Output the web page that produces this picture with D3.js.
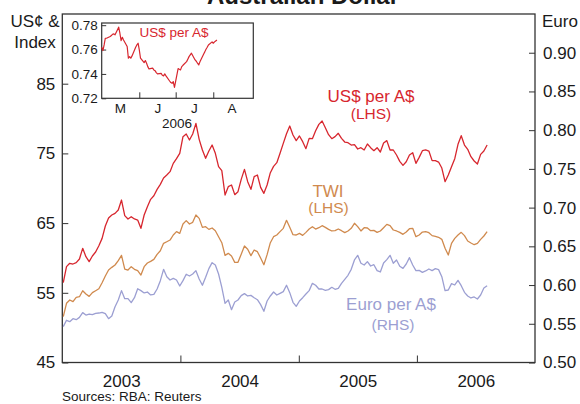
<!DOCTYPE html>
<html>
<head>
<meta charset="utf-8">
<script src="https://cdn.jsdelivr.net/npm/d3@7"></script>
<style>
  body { margin: 0; background: #fff; }
  svg { font-family: "Liberation Sans", Arial, sans-serif; }
</style>
</head>
<body>
<div id="chart"></div>
<script>
let width = 580,
height = 404;

// main series: one reading every 10 days starting 4 Jan 2003
let startDate = new Date(2003, 0, 4);
let stepDays = 10;

let usd = [ //US cents per A$ (LHS)
  56.45, 58.75, 59.23, 59.13, 59.32, 59.85, 61.38, 60.18, 59.47, 60.28,
  60.85, 61.76, 62.81, 64.58, 65.73, 66.16, 66.40, 66.88, 68.31, 66.07,
  65.59, 65.92, 65.59, 65.44, 64.25, 66.16, 67.36, 68.41, 68.93, 69.84,
  70.56, 71.47, 71.90, 72.38, 73.57, 74.24, 75.01, 77.40, 77.78, 76.92,
  77.78, 79.31, 77.02, 75.49, 74.29, 75.34, 76.20, 75.01, 73.10, 72.52,
  69.03, 70.23, 70.47, 69.08, 69.51, 71.28, 72.71, 70.94, 69.84, 71.66,
  71.90, 70.13, 69.27, 70.47, 72.23, 73.14, 73.67, 75.01, 76.44, 77.83,
  78.93, 77.64, 76.83, 77.50,
  76.68, 75.68, 77.16, 77.11, 78.26, 79.17, 79.65, 78.69, 77.69, 77.11,
  77.40, 77.88, 77.16, 76.63, 76.54, 76.20, 76.25, 75.63, 75.82, 75.49,
  76.35, 75.82, 75.39, 75.82, 75.20, 76.49, 76.83, 75.49, 75.49, 74.77,
  73.86, 73.29, 73.81, 74.77, 75.10, 73.57, 74.43, 75.39, 75.49, 75.34,
  73.96, 73.96, 73.76, 72.90, 70.94, 71.90, 73.10, 74.24, 76.30, 77.54,
  76.20, 75.58, 74.53, 73.91, 73.48, 74.86, 75.34, 76.20
];

let twi = [ //trade-weighted index (LHS)
  51.57, 53.49, 53.97, 53.73, 54.35, 54.44, 55.30, 54.83, 54.49, 55.02,
  55.30, 55.59, 56.45, 57.41, 58.27, 58.65, 58.99, 59.61, 60.37, 58.41,
  58.27, 58.75, 58.37, 58.17, 57.55, 58.75, 59.27, 59.51, 59.80, 60.52,
  61.04, 62.10, 62.33, 62.57, 63.29, 63.77, 63.53, 64.87, 65.35, 64.87,
  65.11, 66.16, 65.68, 64.39, 64.49, 64.10, 64.30, 63.91, 63.05, 62.19,
  60.37, 60.66, 60.28, 59.37, 59.37, 60.52, 61.71, 61.24, 60.33, 61.14,
  60.90, 59.99, 59.03, 60.47, 62.19, 63.05, 63.29, 63.77, 64.25, 65.40,
  64.39, 63.34, 63.29, 63.53,
  63.24, 63.67, 64.15, 64.49, 64.15, 64.34, 64.63, 64.39, 64.10, 63.87,
  63.91, 64.15, 63.91, 63.63, 63.87, 64.25, 64.97, 64.49, 63.87, 64.34,
  64.30, 63.91, 63.96, 63.67, 63.87, 64.34, 64.82, 64.63, 64.01, 63.87,
  63.67, 63.39, 63.72, 64.20, 64.25, 63.05, 63.29, 63.72, 63.77, 63.63,
  63.20, 63.10, 62.96, 62.67, 61.38, 60.42, 62.10, 62.81, 63.29, 63.67,
  63.20, 62.43, 62.14, 61.90, 62.10, 62.67, 63.15, 63.77
];

let euro = [ //euro per A$ (RHS)
  0.5463, 0.5545, 0.5527, 0.5566, 0.5553, 0.5583, 0.5644, 0.5613, 0.5626, 0.5618,
  0.5635, 0.5639, 0.5648, 0.5631, 0.5566, 0.5601, 0.5721, 0.5807, 0.5928, 0.5824,
  0.5824, 0.5773, 0.5837, 0.5953, 0.5928, 0.5898, 0.5910, 0.5872, 0.5880, 0.5949,
  0.6057, 0.6203, 0.6108, 0.6065, 0.6087, 0.6065, 0.5988, 0.6057, 0.6139, 0.6117,
  0.6143, 0.6186, 0.6078, 0.5997, 0.6100, 0.6212, 0.6289, 0.6259, 0.6143, 0.5971,
  0.5764, 0.5807, 0.5682, 0.5781, 0.5807, 0.5863, 0.5889, 0.5859, 0.5867, 0.5837,
  0.5811, 0.5747, 0.5661, 0.5794, 0.5859, 0.5910, 0.5872, 0.5893, 0.5915, 0.5997,
  0.5902, 0.5777, 0.5725, 0.5794,
  0.5837, 0.5885, 0.5928, 0.6022, 0.5997, 0.5949, 0.5949, 0.5932, 0.5941, 0.5971,
  0.5945, 0.5958, 0.6022, 0.6074, 0.6126, 0.6203, 0.6324, 0.6384, 0.6281, 0.6259,
  0.6302, 0.6246, 0.6263, 0.6186, 0.6169, 0.6285, 0.6328, 0.6384, 0.6281, 0.6324,
  0.6242, 0.6216, 0.6272, 0.6354, 0.6259, 0.6186, 0.6190, 0.6164, 0.6182, 0.6207,
  0.6186, 0.6212, 0.6199, 0.6108, 0.5928, 0.5936, 0.6018, 0.6001, 0.6061, 0.5992,
  0.5906, 0.5859, 0.5833, 0.5846, 0.5820, 0.5872, 0.5962, 0.5992
];

// inset: daily US$ per A$, trading days 1 May - 4 Aug 2006
let insetStart = new Date(2006, 4, 1);
let insetEnd = new Date(2006, 7, 5);
let insetUsd = [
  0.7619, 0.7592, 0.7638, 0.7693, 0.7693,
  0.7707, 0.7715, 0.7726, 0.7729, 0.7721,
  0.7784, 0.7734, 0.7674, 0.7701, 0.7679,
  0.7625, 0.7529, 0.7542, 0.7529, 0.7548,
  0.7619, 0.7638, 0.7652, 0.7597, 0.7529,
  0.7493, 0.7510, 0.7488, 0.7460, 0.7441,
  0.7447, 0.7433, 0.7427, 0.7411, 0.7400,
  0.7405, 0.7389, 0.7384, 0.7400, 0.7384,
  0.7342, 0.7329, 0.7323, 0.7337, 0.7290,
  0.7444, 0.7438, 0.7433, 0.7460, 0.7471,
  0.7501, 0.7521, 0.7542, 0.7556, 0.7570,
  0.7515, 0.7504, 0.7488, 0.7474, 0.7499,
  0.7562, 0.7581, 0.7603, 0.7619, 0.7638,
  0.7663, 0.7652, 0.7663, 0.7671, 0.7679
];

let leftTicks = [45, 55, 65, 75, 85];
let rightTicks = [0.50, 0.55, 0.60, 0.65, 0.70, 0.75, 0.80, 0.85, 0.90];
let years = [2003, 2004, 2005, 2006];
let insetTicks = [0.72, 0.74, 0.76, 0.78];
let insetMonths = ["M", "J", "J", "A"];

let red = '#d7262e';
let tan = '#d08a4e';
let lilac = '#9c9fd2';
let ink = '#1a1a1a';

// build the date tables
let dates = usd.map(function(d, i){ return d3.timeDay.offset(startDate, i * stepDays); });
let insetDates = d3.timeDay.range(insetStart, insetEnd).filter(function(d){
  return d.getDay() !== 0 && d.getDay() !== 6;
});

let svg = d3.select("#chart")
  .append("svg")
  .attr("width", width)
  .attr("height", height);

//plot frame
let pLeft = 62.3, pRight = 535, pTop = 14, pBottom = 362.5;

let x = d3.scaleTime()
  .domain([new Date(2003, 0, 1), new Date(2007, 0, 1)])
  .range([pLeft, pRight]);
let yL = d3.scaleLinear().domain([45, 95]).range([pBottom, pTop]);
let yR = d3.scaleLinear().domain([0.50, 0.95]).range([pBottom, pTop]);

//title (sits mostly off the top of the frame)
svg.append("text")
  .attr("x", 303).attr("y", 4)
  .attr("text-anchor", "middle")
  .style("font-size", "24px").style("font-weight", "bold")
  .style("fill", ink)
  .text("Australian Dollar");

//axes
let gL = svg.append("g")
  .attr("transform", "translate(" + pLeft + ",0)")
  .call(d3.axisLeft(yL).tickValues(leftTicks).tickSize(-6).tickPadding(7).tickFormat(d3.format("d")));
let gR = svg.append("g")
  .attr("transform", "translate(" + pRight + ",0)")
  .call(d3.axisRight(yR).tickValues(rightTicks).tickSize(-6).tickPadding(8).tickFormat(d3.format(".2f")));
let gB = svg.append("g")
  .attr("transform", "translate(0," + pBottom + ")")
  .call(d3.axisBottom(x).tickValues(years.slice(1).map(function(y){ return new Date(y, 0, 1); }))
    .tickSize(-7).tickFormat(""));
let gY = svg.append("g")
  .attr("transform", "translate(0," + pBottom + ")")
  .call(d3.axisBottom(x).tickValues(years.map(function(y){ return new Date(y, 6, 2); }))
    .tickSize(0).tickPadding(12).tickFormat(d3.timeFormat("%Y")));

[gL, gR, gB, gY].forEach(function(g){
  g.select(".domain").remove();
  g.selectAll("line").attr("stroke", "#333").attr("stroke-width", 1);
  g.selectAll("text").style("font-size", "17px").style("fill", ink).attr("font-family", null);
});
gY.selectAll("text").attr("dy", "0.71em");

svg.append("rect")
  .attr("x", pLeft).attr("y", pTop)
  .attr("width", pRight - pLeft).attr("height", pBottom - pTop)
  .attr("fill", "none").attr("stroke", "#333").attr("stroke-width", 1.3);

//unit labels
svg.append("text").attr("x", 35).attr("y", 27).attr("text-anchor", "middle")
  .style("font-size", "17px").style("fill", ink).text("US\u00a2 &");
svg.append("text").attr("x", 35).attr("y", 48).attr("text-anchor", "middle")
  .style("font-size", "17px").style("fill", ink).text("Index");
svg.append("text").attr("x", 542).attr("y", 26.5)
  .style("font-size", "17px").style("fill", ink).text("Euro");

//lines
let lineL = d3.line()
  .x(function(d){ return x(d.date); })
  .y(function(d){ return yL(d.value); });
let lineR = d3.line()
  .x(function(d){ return x(d.date); })
  .y(function(d){ return yR(d.value); });

let series = [
  {values: euro, line: lineR, color: lilac},
  {values: twi, line: lineL, color: tan},
  {values: usd, line: lineL, color: red}
];
series.forEach(function(s){
  let pts = s.values.map(function(v, i){ return {date: dates[i], value: v}; });
  svg.append("path")
    .datum(pts)
    .attr("d", s.line)
    .attr("fill", "none")
    .attr("stroke", s.color)
    .attr("stroke-width", 1.3)
    .attr("stroke-linejoin", "round");
});

//series labels
let labels = [
  {text: "US$ per A$", x: 371, y: 102, size: 17, color: red},
  {text: "(LHS)", x: 371, y: 119, size: 15.5, color: red},
  {text: "TWI", x: 328, y: 196.5, size: 17, color: tan},
  {text: "(LHS)", x: 328.5, y: 213, size: 15.5, color: tan},
  {text: "Euro per A$", x: 391, y: 309.5, size: 17, color: lilac},
  {text: "(RHS)", x: 393, y: 330, size: 15.5, color: lilac}
];
svg.selectAll(".slabel")
  .data(labels)
  .enter()
  .append("text")
  .attr("class", "slabel")
  .attr("x", function(d){ return d.x; })
  .attr("y", function(d){ return d.y; })
  .attr("text-anchor", "middle")
  .style("font-size", function(d){ return d.size + "px"; })
  .style("fill", function(d){ return d.color; })
  .text(function(d){ return d.text; });

//inset
let iLeft = 101.7, iRight = 253.3, iTop = 23, iBottom = 98.3;
let ix = d3.scaleTime()
  .domain([new Date(2006, 4, 1), new Date(2006, 8, 3)])
  .range([iLeft, iRight]);
let iy = d3.scaleLinear().domain([0.72, 0.7818]).range([iBottom, iTop]);

svg.append("rect")
  .attr("x", iLeft).attr("y", iTop)
  .attr("width", iRight - iLeft).attr("height", iBottom - iTop)
  .attr("fill", "#fff");

let giL = svg.append("g")
  .attr("transform", "translate(" + iLeft + ",0)")
  .call(d3.axisLeft(iy).tickValues(insetTicks).tickSize(-4.5).tickPadding(4).tickFormat(d3.format(".2f")));
let giB = svg.append("g")
  .attr("transform", "translate(0," + iBottom + ")")
  .call(d3.axisBottom(ix).tickValues([new Date(2006, 5, 1), new Date(2006, 6, 1), new Date(2006, 7, 1)])
    .tickSize(-6).tickFormat(""));
let giM = svg.append("g")
  .attr("transform", "translate(0," + iBottom + ")")
  .call(d3.axisBottom(ix)
    .tickValues([new Date(2006, 4, 16), new Date(2006, 5, 16), new Date(2006, 6, 16), new Date(2006, 7, 16)])
    .tickSize(0).tickPadding(5)
    .tickFormat(function(d, i){ return insetMonths[i]; }));
[giL, giB, giM].forEach(function(g){
  g.select(".domain").remove();
  g.selectAll("line").attr("stroke", "#333").attr("stroke-width", 1);
  g.selectAll("text").style("font-size", "13.5px").style("fill", ink).attr("font-family", null);
});
giM.selectAll("text").attr("dy", "0.71em");

svg.append("text").attr("x", 177).attr("y", 127.5).attr("text-anchor", "middle")
  .style("font-size", "13.5px").style("fill", ink).text("2006");

svg.append("rect")
  .attr("x", iLeft).attr("y", iTop)
  .attr("width", iRight - iLeft).attr("height", iBottom - iTop)
  .attr("fill", "none").attr("stroke", "#333").attr("stroke-width", 1.2);

let iline = d3.line()
  .x(function(d){ return ix(d.date); })
  .y(function(d){ return iy(d.value); });
svg.append("path")
  .datum(insetUsd.map(function(v, i){ return {date: insetDates[i], value: v}; }))
  .attr("d", iline)
  .attr("fill", "none")
  .attr("stroke", red)
  .attr("stroke-width", 1.2)
  .attr("stroke-linejoin", "round");

svg.append("text").attr("x", 174).attr("y", 37)
  .attr("text-anchor", "middle")
  .style("font-size", "13.5px").style("fill", red)
  .text("US$ per A$");

//source
svg.append("text").attr("x", 62).attr("y", 401)
  .style("font-size", "13.5px").style("fill", ink)
  .text("Sources: RBA: Reuters");
</script>
</body>
</html>
